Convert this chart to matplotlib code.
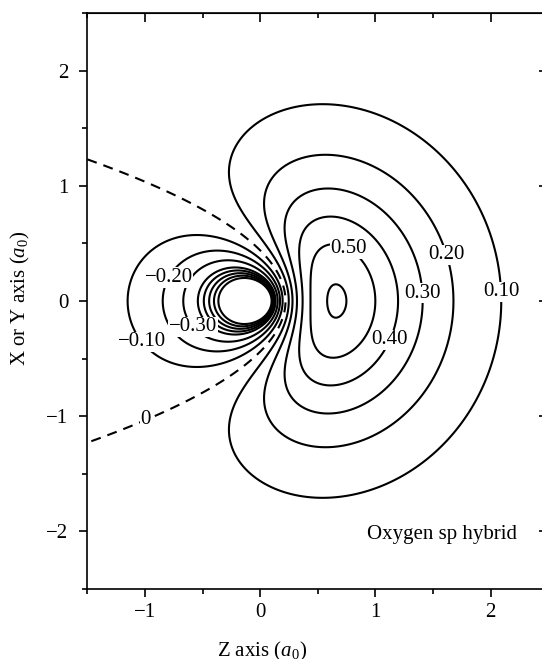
import numpy as np
import matplotlib
matplotlib.use("Agg")
import matplotlib.pyplot as plt
from matplotlib.ticker import MultipleLocator

plt.rcParams["font.family"] = ["Liberation Serif", "DejaVu Serif"]
plt.rcParams["mathtext.fontset"] = "custom"
plt.rcParams["mathtext.rm"] = "Liberation Serif"
plt.rcParams["mathtext.it"] = "Liberation Serif:italic"

# Oxygen sp hybrid built from hydrogen-like 2s and 2pz functions
z_eff = 4.55                      # effective nuclear charge for O 2s/2p
neg_levels = [-0.60, -0.55, -0.50, -0.45, -0.40, -0.30, -0.20, -0.10]
node_level = [0.0]
pos_levels = [0.10, 0.20, 0.30, 0.40, 0.50, 0.60]

label_levels = [0.50, 0.20, 0.30, 0.10, 0.40, -0.20, -0.30, -0.10, 0.0]
label_z = [0.77, 1.61, 1.41, 2.08, 1.135, -0.84, -0.54, -1.05, -0.99]
label_y = [0.46, 0.40, 0.07, 0.08, -0.34, 0.23, -0.19, -0.37, -1.04]

x_range = (-1.5, 2.5)
y_range = (-2.5, 2.5)


def sp_hybrid(z, x):
    r = np.hypot(z, x)
    rho = z_eff * r
    norm = z_eff ** 1.5 / (4.0 * np.sqrt(2.0 * np.pi)) / np.sqrt(2.0)
    return norm * (rho + z_eff * z - 2.0) * np.exp(-rho / 2.0)


zz, xx = np.meshgrid(np.linspace(*x_range, 1400), np.linspace(*y_range, 1700))
psi = sp_hybrid(zz, xx)

W, H = 542, 659
fig = plt.figure(figsize=(W / 100, H / 100), dpi=100)
ax = fig.add_axes([87.3 / W, (H - 589) / H, 461 / W, 576 / H])

lw = 1.5
all_levels = neg_levels + node_level + pos_levels
cs = ax.contour(zz, xx, psi, levels=all_levels, colors="black",
                linewidths=lw,
                linestyles=["solid"] * len(neg_levels) + [(0, (4.8, 3.4))]
                + ["solid"] * len(pos_levels))


def fmt(v):
    if v == 0:
        return "0"
    return f"{v:.2f}".replace("-", "\u2212")


# put each label on the nearest point of its own contour line
for lev, lz, ly in zip(label_levels, label_z, label_y):
    idx = int(np.argmin(np.abs(np.array(all_levels) - lev)))
    segs = [s for s in cs.allsegs[idx] if len(s)]
    pts = np.vstack(segs)
    k = int(np.argmin((pts[:, 0] - lz) ** 2 + (pts[:, 1] - ly) ** 2))
    ax.text(pts[k, 0], pts[k, 1], fmt(lev), ha="center", va="center",
            fontsize=15, zorder=5,
            bbox=dict(facecolor="white", edgecolor="none", pad=0.5))

ax.text(2.23, -2.03, "Oxygen sp hybrid", ha="right", va="center", fontsize=15)

ax.set_xlim(*x_range)
ax.set_ylim(*y_range)

for sp in ax.spines.values():
    sp.set_linewidth(1.2)

ax.xaxis.set_major_locator(MultipleLocator(1))
ax.xaxis.set_minor_locator(MultipleLocator(0.5))
ax.yaxis.set_major_locator(MultipleLocator(1))
ax.yaxis.set_minor_locator(MultipleLocator(0.5))
ax.tick_params(which="major", direction="out", length=6, width=1.2,
               labelsize=15, top=False, right=False)
ax.tick_params(which="minor", direction="out", length=3.3, width=1.2,
               top=False, right=False)
ax.tick_params(axis="x", pad=4)
ax.tick_params(axis="y", pad=7.5)

top = ax.secondary_xaxis("top")
top.xaxis.set_major_locator(MultipleLocator(1))
top.xaxis.set_minor_locator(MultipleLocator(0.5))
top.tick_params(which="major", direction="in", length=6.5, width=1.2,
                labeltop=False)
top.tick_params(which="minor", direction="in", length=3.5, width=1.2)
right = ax.secondary_yaxis("right")
right.yaxis.set_major_locator(MultipleLocator(1))
right.yaxis.set_minor_locator(MultipleLocator(0.5))
right.tick_params(which="major", direction="in", length=6.5, width=1.2,
                  labelright=False)
right.tick_params(which="minor", direction="in", length=3.5, width=1.2)

ax.set_xlabel("Z axis ($a_0$)", fontsize=15)
ax.set_ylabel("X or Y axis ($a_0$)", fontsize=15)
ax.xaxis.set_label_coords(0.378, -0.089)
ax.yaxis.set_label_coords(-0.12, 0.504)

fig.savefig("out.png", dpi=100)
